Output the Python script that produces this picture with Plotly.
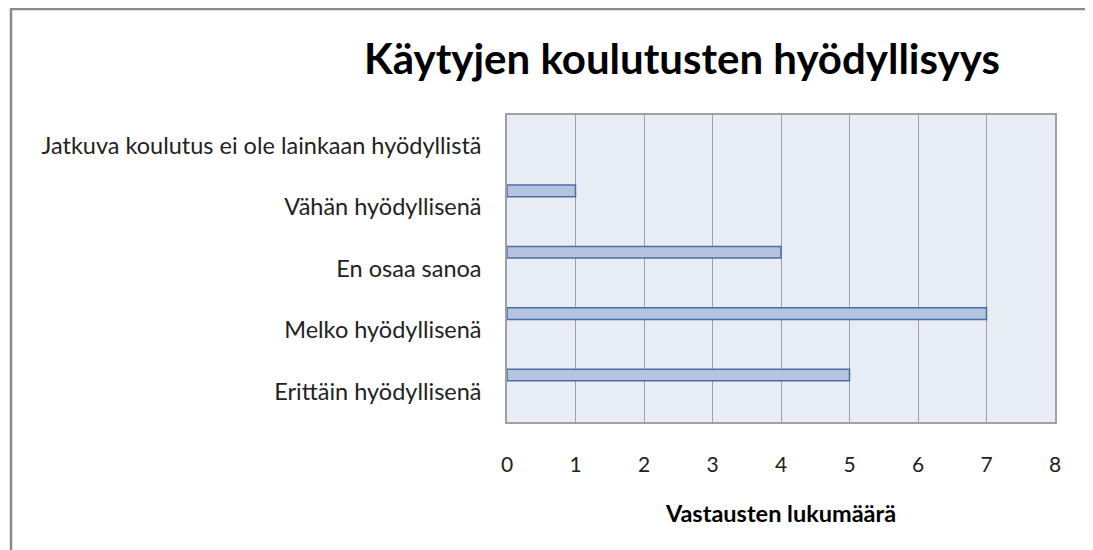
import plotly.graph_objects as go

categories = [
    "Erittäin hyödyllisenä",
    "Melko hyödyllisenä",
    "En osaa sanoa",
    "Vähän hyödyllisenä",
    "Jatkuva koulutus ei ole lainkaan hyödyllistä",
]
values = [5, 7, 4, 1, 0]
x_ticks = [0, 1, 2, 3, 4, 5, 6, 7, 8]
title_text = "Käytyjen koulutusten hyödyllisyys"
x_title = "Vastausten lukumäärä"

W, H = 1093, 550
ML, MR, MT, MB = 499, 46, 107, 136
pw = W - ML - MR
ph = H - MT - MB

def px(x):
    return (x - ML) / pw

def py(y):
    return (H - MB - y) / ph

font = "Lato"

fig = go.Figure()
fig.add_trace(go.Bar(
    y=categories, x=values, orientation="h",
    width=0.19, offset=0.17,
    marker=dict(color="#b4c4de",
                line=dict(color="#4a6ea5", width=[1.5 if v > 0 else 0 for v in values])),
    hoverinfo="x+y",
))

fig.update_layout(
    width=W, height=H,
    margin=dict(l=ML, r=MR, t=MT, b=MB),
    paper_bgcolor="white",
    plot_bgcolor="#e8ecf4",
    showlegend=False,
    title=dict(text="<b>" + title_text + "</b>", xref="container", x=674 / W, xanchor="center",
               yref="container", y=1 - 51 / H, yanchor="middle",
               font=dict(family=font, size=42, color="#000000")),
    xaxis=dict(
        range=[0, 8], tickvals=x_ticks, showgrid=True, gridcolor="#a0a0a0", gridwidth=1,
        zeroline=False, showline=True, linecolor="#a0a0a0", linewidth=1.5, mirror=True,
        ticks="", ticklabelstandoff=23,
        tickfont=dict(family=font, size=21, color="#222222"),
        title=dict(text="<b>" + x_title + "</b>", standoff=31,
                   font=dict(family=font, size=23.5, color="#000000")),
    ),
    yaxis=dict(
        categoryorder="array", categoryarray=categories,
        showgrid=False, showline=True, linecolor="#a0a0a0", linewidth=1.5, mirror=True,
        ticks="", ticklabelstandoff=19,
        tickfont=dict(family=font, size=23.5, color="#222222"),
    ),
    shapes=[dict(type="rect", xref="paper", yref="paper",
                 x0=px(3), x1=px(1080), y0=py(1), y1=py(560),
                 line=dict(color="#8a8a8a", width=2.5), fillcolor="rgba(0,0,0,0)",
                 layer="below")],
)

fig.write_html("out.html")
